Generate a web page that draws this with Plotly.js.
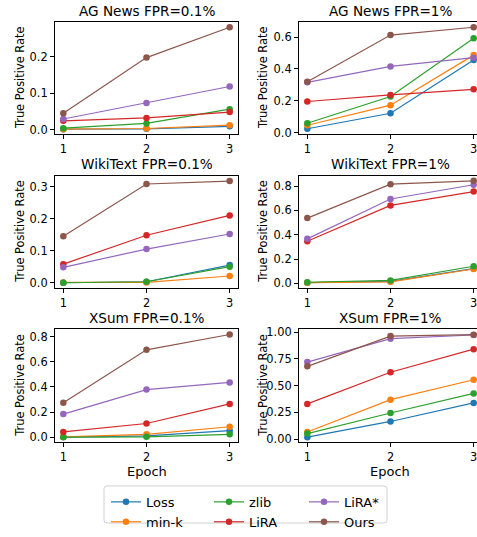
<!DOCTYPE html>
<html>
<head>
<meta charset="utf-8">
<script src="https://cdn.plot.ly/plotly-3.0.1.min.js"></script>
<style>
html,body{margin:0;padding:0;background:#fff;}
#chart{width:477px;height:537px;}
</style>
</head>
<body>
<div id="chart"></div>
<script>
// ---- data ----
const epochs = [1, 2, 3];
const methods = ['Loss', 'min-k', 'zlib', 'LiRA', 'LiRA*', 'Ours'];
const panelTitles = ['AG News FPR=0.1%', 'AG News FPR=1%', 'WikiText FPR=0.1%', 'WikiText FPR=1%', 'XSum FPR=0.1%', 'XSum FPR=1%'];

// each panel: rows in method order Loss, min-k, zlib, LiRA, LiRA*, Ours
const agNews_fpr01 = [
  [0.002, 0.003, 0.010],
  [0.002, 0.004, 0.013],
  [0.005, 0.018, 0.057],
  [0.025, 0.033, 0.049],
  [0.030, 0.074, 0.119],
  [0.046, 0.198, 0.281]
];
const agNews_fpr1 = [
  [0.025, 0.122, 0.457],
  [0.047, 0.173, 0.487],
  [0.059, 0.227, 0.593],
  [0.196, 0.237, 0.272],
  [0.316, 0.416, 0.471],
  [0.320, 0.613, 0.662]
];
const wikiText_fpr01 = [
  [0.000, 0.003, 0.055],
  [0.001, 0.001, 0.021],
  [0.000, 0.003, 0.050],
  [0.058, 0.148, 0.210],
  [0.048, 0.105, 0.152],
  [0.145, 0.308, 0.317]
];
const wikiText_fpr1 = [
  [0.006, 0.016, 0.121],
  [0.006, 0.013, 0.118],
  [0.009, 0.024, 0.141],
  [0.346, 0.641, 0.755],
  [0.366, 0.694, 0.811],
  [0.537, 0.816, 0.843]
];
const xSum_fpr01 = [
  [0.001, 0.010, 0.052],
  [0.003, 0.023, 0.083],
  [0.000, 0.003, 0.023],
  [0.042, 0.109, 0.265],
  [0.184, 0.379, 0.436],
  [0.275, 0.696, 0.818]
];
const xSum_fpr1 = [
  [0.018, 0.165, 0.338],
  [0.067, 0.369, 0.555],
  [0.052, 0.244, 0.427],
  [0.329, 0.625, 0.841],
  [0.720, 0.939, 0.973],
  [0.680, 0.963, 0.976]
];
const panels = [agNews_fpr01, agNews_fpr1, wikiText_fpr01, wikiText_fpr1, xSum_fpr01, xSum_fpr1];

// ---- styling ----
const colors = ['#1f77b4', '#ff7f0e', '#2ca02c', '#d62728', '#9467bd', '#8c564b'];
const legendOf = ['legend', 'legend', 'legend2', 'legend2', 'legend3', 'legend3'];
const W = 477, H = 537;
const px = v => v / W;
const py = v => 1 - v / H;

const colX = [[55, 238], [299, 477]];
const rowY = [[22.7, 137.3], [180, 295], [337.3, 453.3]];
const yRanges = [[-0.011, 0.295], [-0.008, 0.694], [-0.016, 0.334], [-0.037, 0.886], [-0.041, 0.861], [-0.030, 1.028]];
const yDticks = [0.1, 0.2, 0.1, 0.2, 0.2, 0.25];
const yFormats = ['.1f', '.1f', '.1f', '.1f', '.1f', '.2f'];
const xRanges = [[0.9, 3.1], [0.9, 3.04]];
const FONT = 'DejaVu Sans, Liberation Sans, sans-serif';

const traces = [];
panels.forEach((panel, p) => {
  const ax = p === 0 ? '' : String(p + 1);
  panel.forEach((vals, m) => {
    traces.push({
      x: epochs, y: vals, type: 'scatter', mode: 'lines+markers',
      name: methods[m],
      xaxis: 'x' + ax, yaxis: 'y' + ax,
      line: {color: colors[m], width: 1.2},
      marker: {color: colors[m], size: 6.5},
      showlegend: p === 0,
      legend: legendOf[m],
      hoverinfo: 'skip'
    });
  });
});

const layout = {
  width: W, height: H,
  margin: {l: 0, r: 0, t: 0, b: 0},
  paper_bgcolor: '#fff', plot_bgcolor: '#fff',
  font: {family: FONT, color: '#000', size: 11.4},
  annotations: [], shapes: []
};
const legendBase = {
  orientation: 'v', xanchor: 'left', yanchor: 'top', y: py(499),
  bgcolor: 'rgba(0,0,0,0)', borderwidth: 0,
  font: {family: FONT, size: 13, color: '#000'},
  tracegroupgap: 0, itemwidth: 30
};
layout.legend = Object.assign({}, legendBase, {x: px(106)});
layout.legend2 = Object.assign({}, legendBase, {x: px(209)});
layout.legend3 = Object.assign({}, legendBase, {x: px(304)});

panels.forEach((panel, p) => {
  const ax = p === 0 ? '' : String(p + 1);
  const c = p % 2, r = Math.floor(p / 2);
  const [xl, xr] = colX[c];
  const [yt, yb] = rowY[r];
  layout['xaxis' + ax] = {
    domain: [px(xl), px(xr)], anchor: 'y' + ax, range: xRanges[c],
    tickvals: epochs, ticktext: epochs.map(String), ticklabeloverflow: 'allow',
    showgrid: false, zeroline: false, showline: true, mirror: true,
    linecolor: '#000', linewidth: 1, ticks: 'outside', ticklen: 4, tickwidth: 1, tickcolor: '#000',
    tickfont: {family: FONT, size: 11.4, color: '#000'}, fixedrange: true
  };
  layout['yaxis' + ax] = {
    domain: [py(yb), py(yt)], anchor: 'x' + ax, range: yRanges[p],
    dtick: yDticks[p], tick0: 0, tickformat: yFormats[p],
    showgrid: false, zeroline: false, showline: true, mirror: true,
    linecolor: '#000', linewidth: 1, ticks: 'outside', ticklen: 4, tickwidth: 1, tickcolor: '#000',
    tickfont: {family: FONT, size: 11.4, color: '#000'}, fixedrange: true
  };
  const cx = c === 0 ? (xl + xr) / 2 : 390;
  layout.annotations.push({
    text: panelTitles[p], xref: 'paper', yref: 'paper', x: px(cx), y: py(yt - 11.5),
    xanchor: 'center', yanchor: 'middle', showarrow: false,
    font: {family: FONT, size: 13.6, color: '#000'}
  });
  layout.annotations.push({
    text: 'True Positive Rate', xref: 'paper', yref: 'paper',
    x: px(c === 0 ? 20 : 263), y: py((yt + yb) / 2), textangle: -90,
    xanchor: 'center', yanchor: 'middle', showarrow: false,
    font: {family: FONT, size: 11.4, color: '#000'}
  });
  if (r === 2) {
    layout.annotations.push({
      text: 'Epoch', xref: 'paper', yref: 'paper', x: px(cx), y: py(483),
      xanchor: 'center', yanchor: 'middle', showarrow: false,
      font: {family: FONT, size: 13, color: '#000'}
    });
  }
});

// legend frame (rounded)
const L = 104, R = 387, T = 498, B = 536, rr = 3;
const path = `M ${px(L + rr)} ${py(T)} L ${px(R - rr)} ${py(T)} Q ${px(R)} ${py(T)} ${px(R)} ${py(T + rr)} ` +
  `L ${px(R)} ${py(B - rr)} Q ${px(R)} ${py(B)} ${px(R - rr)} ${py(B)} L ${px(L + rr)} ${py(B)} ` +
  `Q ${px(L)} ${py(B)} ${px(L)} ${py(B - rr)} L ${px(L)} ${py(T + rr)} Q ${px(L)} ${py(T)} ${px(L + rr)} ${py(T)} Z`;
layout.shapes.push({type: 'path', xref: 'paper', yref: 'paper', path: path,
  line: {color: '#d0d0d0', width: 1}, fillcolor: 'rgba(255,255,255,0.8)', layer: 'below'});

Plotly.newPlot('chart', traces, layout, {staticPlot: true, displayModeBar: false});
</script>
</body>
</html>
